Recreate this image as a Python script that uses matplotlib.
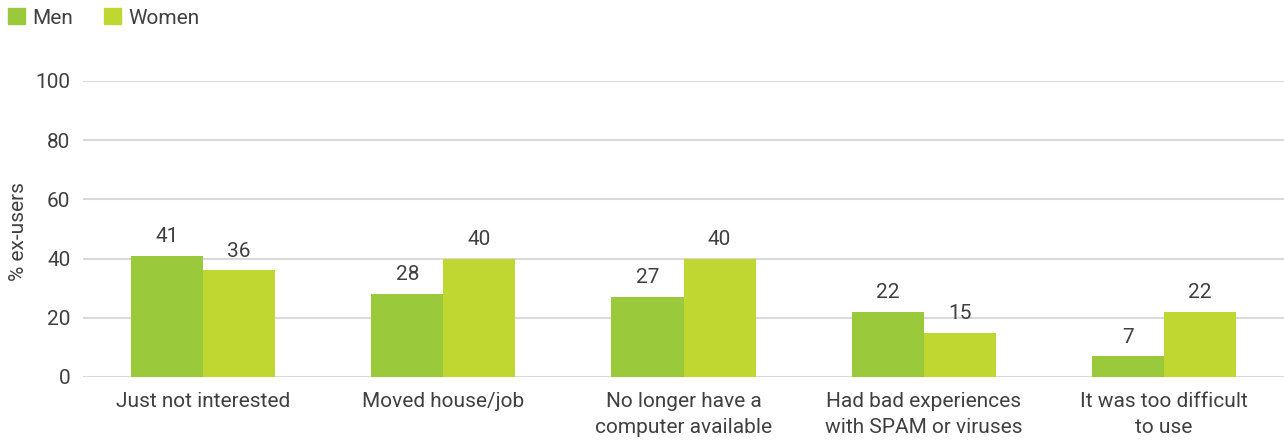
import matplotlib
matplotlib.use("Agg")
import matplotlib.pyplot as plt
import numpy as np
from matplotlib.patches import Patch

categories = ["Just not interested", "Moved house/job", "No longer have a\ncomputer available",
              "Had bad experiences\nwith SPAM or viruses", "It was too difficult\nto use"]
men = [41, 28, 27, 22, 7]
women = [36, 40, 40, 15, 22]
yticks = [0, 20, 40, 60, 80, 100]

men_color = "#9AC93C"
women_color = "#BFD730"
text_color = "#404040"
fs = 15

plt.rcParams['font.family'] = ['Roboto', 'DejaVu Sans']

fig = plt.figure(figsize=(12.84, 4.43), dpi=100)
ax = fig.add_axes([83/1284, 66/443, 1 - 83/1284, 296/443])

x = np.arange(len(categories))
w = 0.3
b1 = ax.bar(x - w/2, men, w, color=men_color, zorder=3)
b2 = ax.bar(x + w/2, women, w, color=women_color, zorder=3)

for bars, vals in ((b1, men), (b2, women)):
    for r, v in zip(bars, vals):
        ax.annotate(f"{v}", (r.get_x() + r.get_width()/2, v), xytext=(0, 7),
                    textcoords="offset points", ha="center", va="bottom",
                    fontsize=fs, color=text_color)

ax.set_xlim(-0.5, len(categories) - 0.5)
ax.set_ylim(0, 100)
ax.set_yticks(yticks)
ax.set_yticklabels([str(t) for t in yticks], fontsize=fs, color=text_color)
ax.set_xticks(x)
ax.set_xticklabels(categories, fontsize=fs, color=text_color, linespacing=1.45)
ax.tick_params(axis='x', length=0, pad=11)
ax.tick_params(axis='y', length=0, pad=9)
ax.yaxis.grid(True, color="#d9d9d9", linewidth=1.5, zorder=0)
ax.set_axisbelow(True)
for s in ax.spines.values():
    s.set_visible(False)
ax.set_ylabel("% ex-users", fontsize=fs, color=text_color)
ax.yaxis.set_label_coords((28 - 83) / 1201, 0.49)

handles = [Patch(color=men_color, label="Men"), Patch(color=women_color, label="Women")]
fig.legend(handles=handles, loc="upper left", bbox_to_anchor=(0.0, 1.0), ncol=2, frameon=False,
           fontsize=fs, handlelength=0.8, handleheight=0.8, handletextpad=0.35,
           columnspacing=1.5, labelcolor=text_color, borderaxespad=0.1, borderpad=0.3)

fig.savefig("out.png", dpi=100)
